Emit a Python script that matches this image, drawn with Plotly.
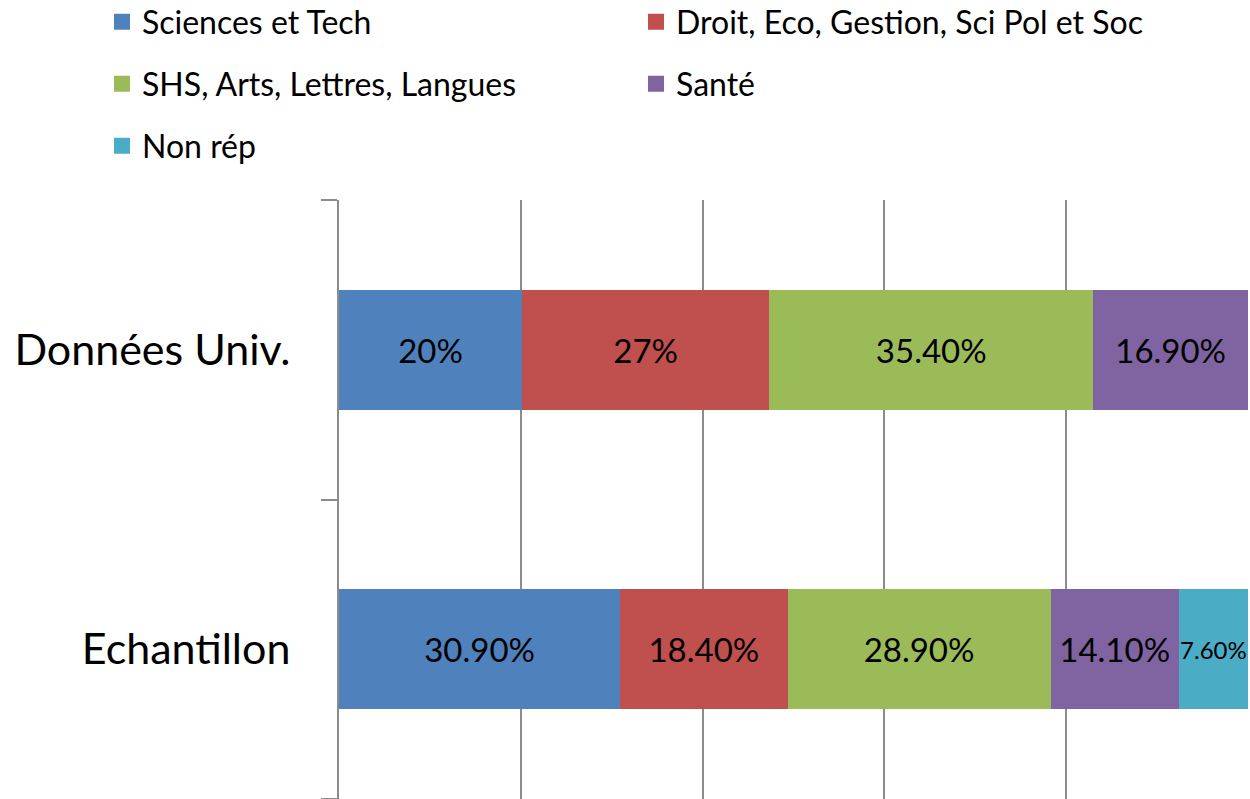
import plotly.graph_objects as go

categories = ["Echantillon", "Données Univ."]
series_names = ["Sciences et Tech", "Droit, Eco, Gestion, Sci Pol et Soc",
                "SHS, Arts, Lettres, Langues", "Santé", "Non rép"]
sciences = [30.9, 20.0]
droit = [18.4, 27.0]
shs = [28.9, 35.4]
sante = [14.1, 16.9]
non_rep = [7.6, None]

colors = ["#4F81BD", "#C0504D", "#9BBB59", "#8064A2", "#4BACC6"]
legend_ids = ["legend", "legend", "legend2", "legend2", "legend3"]
FONT = "Lato"

W, H = 1250, 799
ML, MR, MT, MB = 339, 2, 200, 0
PW, PH = W - ML - MR, H - MT - MB


def fmt(v):
    if v is None:
        return ""
    return f"{v:.0f}%" if float(v).is_integer() else f"{v:.2f}%"


def px_x(px):
    return (px - ML) / PW


def px_y(py):
    return (H - MB - py) / PH


fig = go.Figure()
for name, vals, col in zip(series_names, [sciences, droit, shs, sante, non_rep], colors):
    sizes = [24 if (v is not None and v < 10) else 33 for v in vals]
    fig.add_trace(go.Bar(
        y=categories, x=vals, name=name, orientation="h",
        marker=dict(color=col, line=dict(width=0)),
        text=[fmt(v) for v in vals], textposition="inside",
        insidetextanchor="middle", textangle=0, constraintext="none",
        textfont=dict(family=FONT, size=sizes, color="black"),
        showlegend=False, cliponaxis=False,
    ))

# legend entries (square swatches)
for name, col, lg in zip(series_names, colors, legend_ids):
    fig.add_trace(go.Scatter(
        x=[None], y=[None], mode="markers", name=name,
        marker=dict(symbol="square", size=20, color=col, line=dict(width=0)),
        legend=lg, showlegend=True, hoverinfo="skip",
    ))

leg_common = dict(orientation="h", xref="paper", yref="paper",
                  x=px_x(102), xanchor="left", yanchor="middle",
                  entrywidth=489, entrywidthmode="pixels",
                  font=dict(family=FONT, size=32, color="black"),
                  bgcolor="rgba(0,0,0,0)", traceorder="normal")

fig.update_layout(
    barmode="stack", barnorm="fraction", bargap=0.6,
    width=W, height=H,
    margin=dict(l=ML, r=MR, t=MT, b=MB, autoexpand=False),
    paper_bgcolor="white", plot_bgcolor="white",
    font=dict(family=FONT, color="black"),
    legend=dict(**leg_common, y=px_y(22)),
    legend2=dict(**leg_common, y=px_y(84)),
    legend3=dict(**leg_common, y=px_y(146)),
    xaxis=dict(range=[0, 1], dtick=0.2, tick0=0, showgrid=True,
               gridcolor="#8C8C8C", gridwidth=2, showticklabels=False,
               zeroline=False, showline=False, ticks="", automargin=False),
    yaxis=dict(showline=True, linecolor="#8C8C8C", linewidth=2,
               ticks="outside", tickson="boundaries", ticklen=16,
               tickwidth=2, tickcolor="#8C8C8C", ticklabelstandoff=38,
               tickfont=dict(family=FONT, size=43, color="black"),
               showgrid=False, zeroline=False, automargin=False),
)

fig.write_html("out.html", config={"displayModeBar": False},
               post_script="document.body.style.margin='0';document.body.style.overflow='hidden';")
